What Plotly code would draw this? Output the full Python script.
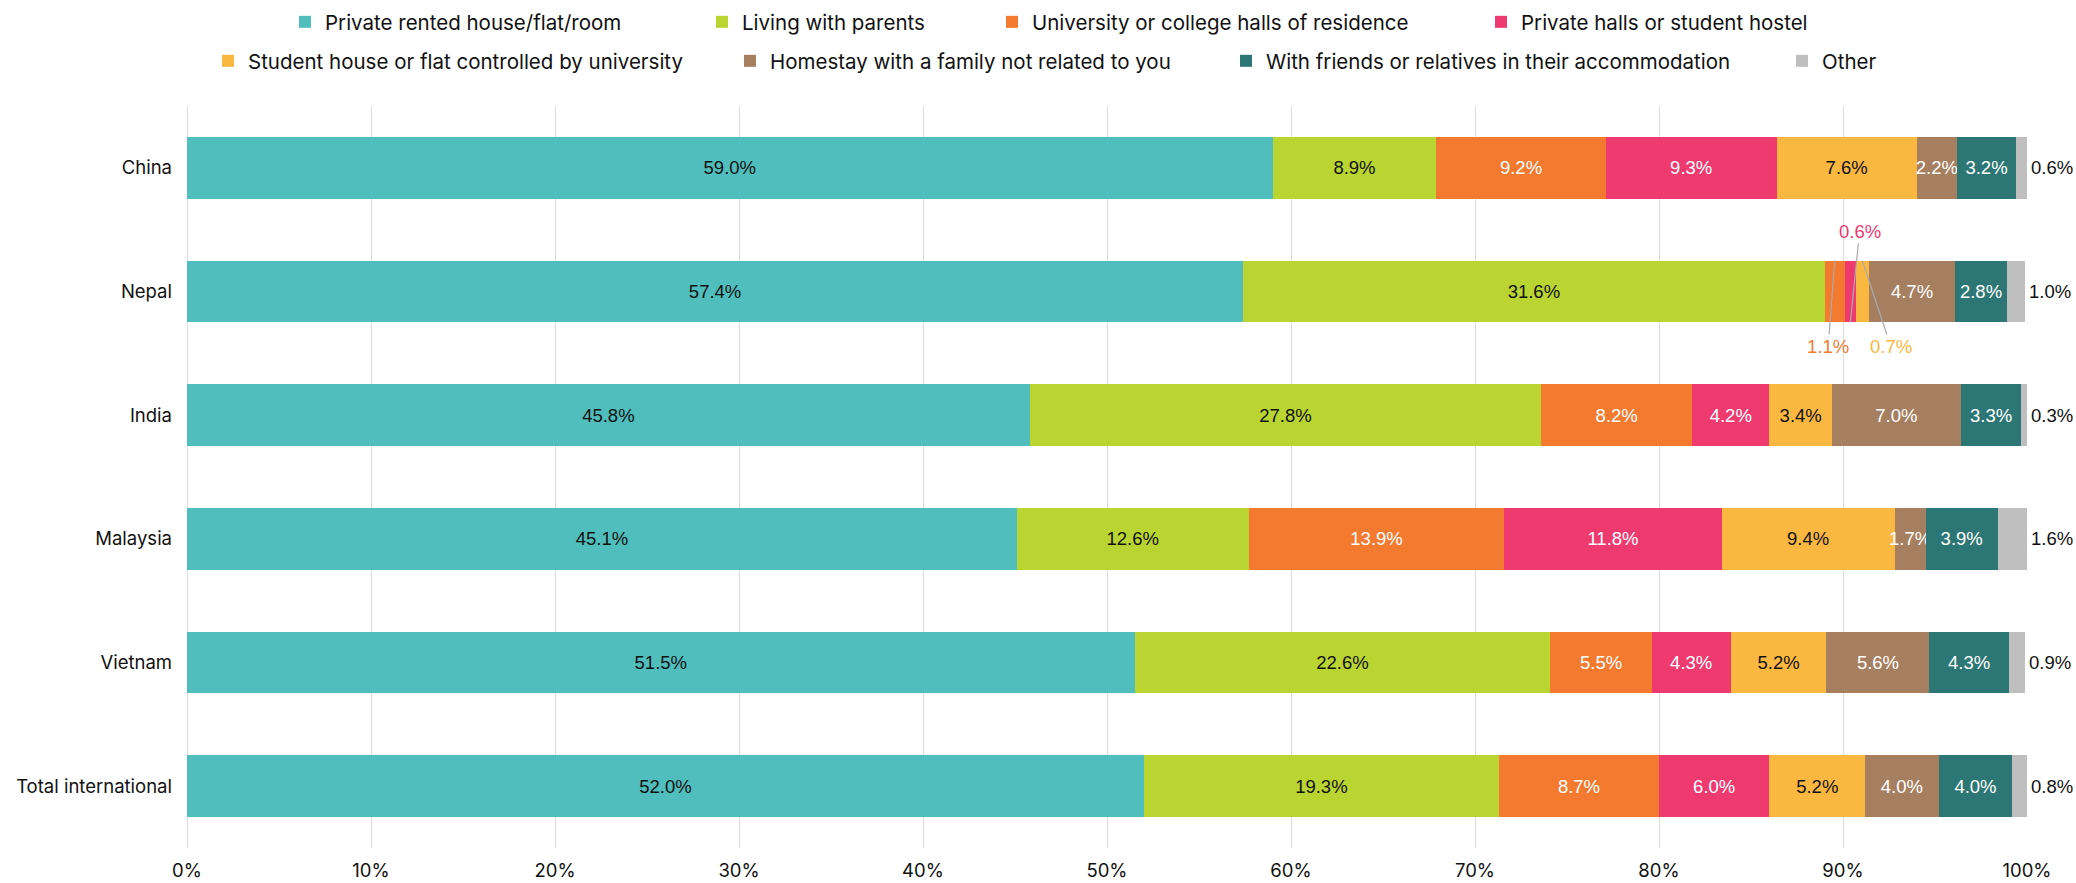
import plotly.graph_objects as go

# Where international students live, share of respondents by nationality
countries = ["China", "Nepal", "India", "Malaysia", "Vietnam", "Total international"]

categories = [
    "Private rented house/flat/room",
    "Living with parents",
    "University or college halls of residence",
    "Private halls or student hostel",
    "Student house or flat controlled by university",
    "Homestay with a family not related to you",
    "With friends or relatives in their accommodation",
    "Other",
]

private_rented = [59.0, 57.4, 45.8, 45.1, 51.5, 52.0]
living_with_parents = [8.9, 31.6, 27.8, 12.6, 22.6, 19.3]
university_halls = [9.2, 1.1, 8.2, 13.9, 5.5, 8.7]
private_halls = [9.3, 0.6, 4.2, 11.8, 4.3, 6.0]
student_house = [7.6, 0.7, 3.4, 9.4, 5.2, 5.2]
homestay = [2.2, 4.7, 7.0, 1.7, 5.6, 4.0]
friends_relatives = [3.2, 2.8, 3.3, 3.9, 4.3, 4.0]
other = [0.6, 1.0, 0.3, 1.6, 0.9, 0.8]

series = [private_rented, living_with_parents, university_halls, private_halls,
          student_house, homestay, friends_relatives, other]

colors = ["#50BEBD", "#BAD532", "#F47A30", "#EF3A70",
          "#FBB841", "#A67F61", "#2C7775", "#BFBFBF"]
label_colors = ["#111111", "#111111", "#FFFFFF", "#FFFFFF",
                "#111111", "#FFFFFF", "#FFFFFF", "#111111"]

# Segments narrower than this get a callout instead of an inside label
MIN_INSIDE = 1.5

# Callout label positions for thin segments: (row, series) -> (x %, y index, tip edge offset)
callout_pos = {
    (1, 2): (89.2, 1.445, -0.25),
    (1, 3): (90.9, 0.515, 0.25),
    (1, 4): (92.6, 1.445, -0.25),
}

# Plot-area geometry (pixels)
FIG_W, FIG_H = 2076, 883
M_L, M_R, M_T, M_B = 187, 49, 106, 35
PLOT_W = FIG_W - M_L - M_R
PLOT_H = FIG_H - M_T - M_B

# Legend entry placement: left edge of swatch (px) and row centre (px from top)
legend_px = [306, 723, 1013, 1502, 229, 751, 1247, 1803]
legend_row_y = [22, 61]
legend_rows = [0, 0, 0, 0, 1, 1, 1, 1]

LABEL_FONT = "Liberation Sans, Arial, sans-serif"
AXIS_FONT = "Inter, Roboto, sans-serif"
LABEL_SIZE = 18.5

fig = go.Figure()
annotations = []

for si, (name, vals) in enumerate(zip(categories, series)):
    legend_id = "legend" if si == 0 else f"legend{si + 1}"
    is_last = si == len(series) - 1
    texts = []
    for ri, v in enumerate(vals):
        end = sum(s[ri] for s in series[:si + 1])
        if is_last:
            # "Other" values sit just past the end of each bar
            texts.append("")
            annotations.append(dict(
                x=end, y=ri, xref="x", yref="y", xanchor="left", xshift=2,
                text=f"{v:.1f}%", showarrow=False,
                font=dict(family=LABEL_FONT, size=LABEL_SIZE, color=label_colors[si]),
            ))
        elif v >= MIN_INSIDE:
            texts.append(f"{v:.1f}%")
        else:
            texts.append("")
            lx, ly, edge = callout_pos[(ri, si)]
            annotations.append(dict(
                x=end - v / 2, y=ri + edge, xref="x", yref="y",
                ax=lx, ay=ly, axref="x", ayref="y",
                text=f"{v:.1f}%", showarrow=True, arrowhead=0,
                arrowwidth=1.2, arrowcolor="#AAAAAA", standoff=0,
                font=dict(family=LABEL_FONT, size=LABEL_SIZE, color=colors[si]),
            ))
    fig.add_trace(go.Bar(
        y=countries, x=vals, name=name, orientation="h",
        marker=dict(color=colors[si], line=dict(width=0)),
        text=texts,
        textposition="inside",
        insidetextanchor="middle",
        textangle=0,
        constraintext="none",
        cliponaxis=False,
        textfont=dict(family=LABEL_FONT, size=LABEL_SIZE, color=label_colors[si]),
        legend=legend_id,
        hoverinfo="skip",
    ))

layout_legends = {}
for si in range(len(series)):
    key = "legend" if si == 0 else f"legend{si + 1}"
    px = legend_px[si] - 21
    py = legend_row_y[legend_rows[si]]
    layout_legends[key] = dict(
        x=(px - M_L) / PLOT_W, xanchor="left",
        y=(FIG_H - M_B - py) / PLOT_H, yanchor="middle",
        orientation="h", bgcolor="rgba(0,0,0,0)",
        font=dict(family=AXIS_FONT, size=20.5, color="#111111"),
        itemclick=False, itemdoubleclick=False,
    )

fig.update_layout(
    width=FIG_W, height=FIG_H,
    margin=dict(l=M_L, r=M_R, t=M_T, b=M_B, pad=0, autoexpand=False),
    barmode="stack", bargap=0.5,
    plot_bgcolor="white", paper_bgcolor="white",
    showlegend=True,
    annotations=annotations,
    xaxis=dict(
        range=[0, 100], dtick=10, ticksuffix="%",
        showgrid=True, gridcolor="#DDDDDD", gridwidth=1,
        zeroline=True, zerolinecolor="#DDDDDD", zerolinewidth=1,
        showline=False, ticks="", ticklabelstandoff=9,
        tickfont=dict(family=AXIS_FONT, size=18.5, color="#111111"),
        fixedrange=True,
    ),
    yaxis=dict(
        categoryorder="array", categoryarray=countries,
        autorange="reversed", showgrid=False, zeroline=False,
        showline=False, ticks="", ticklabelstandoff=14,
        tickfont=dict(family=AXIS_FONT, size=18.5, color="#111111"),
        fixedrange=True,
    ),
    **layout_legends,
)

fig.write_html("out.html")
